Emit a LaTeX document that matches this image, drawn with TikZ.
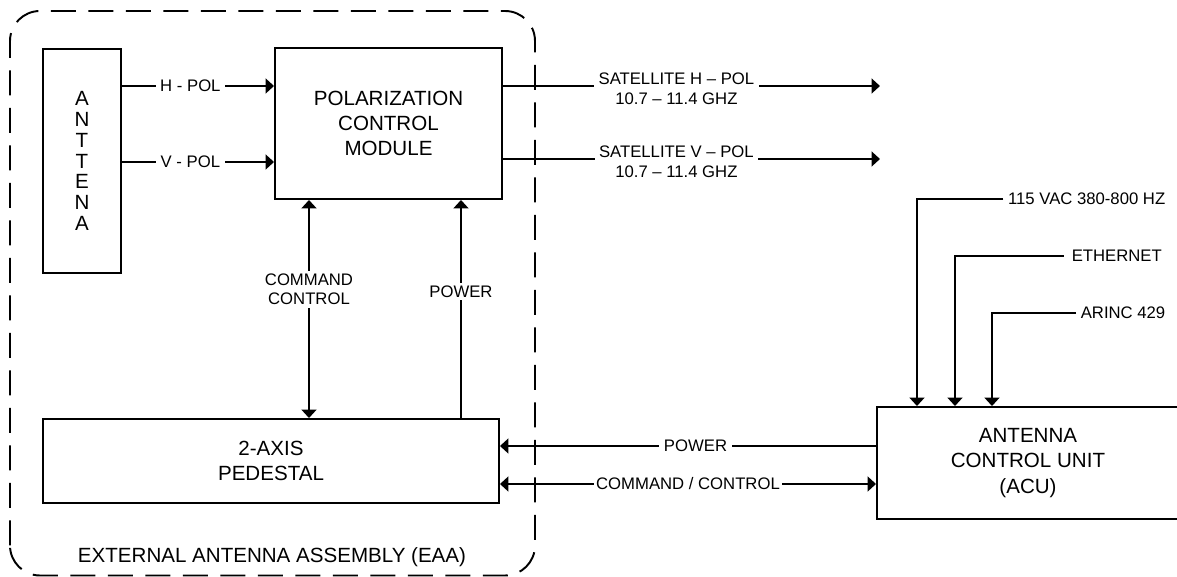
\documentclass[tikz,border=0pt]{standalone}
\usepackage{fontspec}
\setmainfont{Liberation Sans}
\usetikzlibrary{arrows.meta,calc,positioning}
\definecolor{ink}{HTML}{000000}

\begin{document}
\begin{tikzpicture}[
  font=\fontsize{9.5}{11}\selectfont,
  block/.style={draw=ink,line width=1.1pt,inner sep=0pt,align=center,
                font=\fontsize{11.7}{14.4}\selectfont,text=ink},
  wire/.style={draw=ink,line width=1.1pt},
  tip/.style={-{Triangle[length=1.7mm,width=3.0mm]}},
  bothtips/.style={{Triangle[length=1.7mm,width=3.0mm]}-{Triangle[length=1.7mm,width=3.0mm]}},
  tag/.style={fill=white,inner xsep=2.6pt,inner ysep=1.5pt,align=center,
              font=\fontsize{9.5}{11}\selectfont,text=ink},
  feed/.style={anchor=east,inner xsep=2.5pt,font=\fontsize{9.5}{11}\selectfont,text=ink},
  assembly/.style={draw=ink,line width=1.1pt,rounded corners=0.6cm,
                   dash pattern=on 0.5cm off 0.25cm}
]

\useasboundingbox (0,0) rectangle (23.54,11.54);

% -------------------------------------------------------------------------
% External antenna assembly.
\draw[assembly] (0.20,0.03) rectangle (10.70,11.32);
\node[block,draw=none] (eaa) at (5.44,0.40) {EXTERNAL ANTENNA ASSEMBLY (EAA)};

\node[block,minimum width=1.56cm,minimum height=4.48cm,
      font=\fontsize{11.7}{11.9}\selectfont] (ant) at (1.64,8.32)
      {A\\N\\T\\T\\E\\N\\A};
\node[block,minimum width=4.54cm,minimum height=3.02cm] (pcm) at (7.77,9.07)
      {POLARIZATION\\CONTROL\\MODULE};
\node[block,minimum width=9.12cm,minimum height=1.68cm] (ped) at (5.42,2.32)
      {2-AXIS\\PEDESTAL};

\draw[wire,tip] (ant.east |- 0,9.82) -- node[tag,pos=0.45] {H - POL} (pcm.west |- 0,9.82);
\draw[wire,tip] (ant.east |- 0,8.30) -- node[tag,pos=0.45] {V - POL} (pcm.west |- 0,8.30);

\draw[wire,bothtips] (pcm.south -| 6.18,0) -- node[tag,pos=0.41] {COMMAND\\CONTROL}
  (ped.north -| 6.18,0);
\draw[wire,tip] (ped.north -| 9.22,0) -- node[tag,pos=0.58] {POWER} (pcm.south -| 9.22,0);

% -------------------------------------------------------------------------
% Satellite outputs.
\coordinate (hout) at (17.60,9.82);
\coordinate (vout) at (17.60,8.36);
\draw[wire,tip] (pcm.east |- hout) -- node[tag,pos=0.46,yshift=-1.5pt]
  {SATELLITE H -- POL\\10.7 -- 11.4 GHZ} (hout);
\draw[wire,tip] (pcm.east |- vout) -- node[tag,pos=0.46,yshift=-1.5pt]
  {SATELLITE V -- POL\\10.7 -- 11.4 GHZ} (vout);

% -------------------------------------------------------------------------
% Antenna control unit.
\node[block,minimum width=6.04cm,minimum height=2.24cm] (acu) at (20.56,2.28)
      {ANTENNA\\CONTROL UNIT\\(ACU)};

\draw[wire,tip] (acu.west |- 0,2.62) -- node[tag,pos=0.48] {POWER} (ped.east |- 0,2.62);
\draw[wire,bothtips] (acu.west |- 0,1.86) -- node[tag,pos=0.5,inner xsep=1pt] {COMMAND / CONTROL}
  (ped.east |- 0,1.86);

\node[feed] (vac) at (23.40,7.56) {115 VAC 380-800 HZ};
\node[feed,inner xsep=4.5pt] (eth) at (23.40,6.42) {ETHERNET};
\node[feed] (arinc) at (23.40,5.28) {ARINC 429};
\draw[wire,tip] (vac.west) -| ([xshift=-2.22cm]acu.north);
\draw[wire,tip] (eth.west) -| ([xshift=-1.46cm]acu.north);
\draw[wire,tip] (arinc.west) -| ([xshift=-0.72cm]acu.north);

\end{tikzpicture}
\end{document}
